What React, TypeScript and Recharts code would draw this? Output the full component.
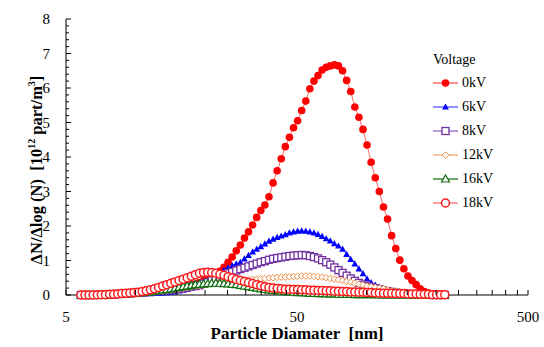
import React from 'react';
import { LineChart, Line, XAxis, YAxis, Legend } from 'recharts';

// particle diameter channels [nm]
const diameters = [
  5.80, 6.04, 6.29, 6.55, 6.83, 7.11, 7.41, 7.72, 8.04, 8.37,
  8.72, 9.08, 9.46, 9.85, 10.26, 10.69, 11.13, 11.60, 12.08, 12.58,
  13.11, 13.65, 14.22, 14.81, 15.43, 16.07, 16.73, 17.43, 18.16, 18.91,
  19.70, 20.52, 21.37, 22.26, 23.19, 24.15, 25.16, 26.20, 27.29, 28.43,
  29.61, 30.84, 32.13, 33.46, 34.85, 36.30, 37.81, 39.39, 41.02, 42.73,
  44.51, 46.36, 48.29, 50.30, 52.39, 54.57, 56.84, 59.20, 61.66, 64.23,
  66.90, 69.68, 72.58, 75.60, 78.75, 82.02, 85.43, 88.98, 92.68, 96.54,
  100.5, 104.7, 109.1, 113.6, 118.4, 123.3, 128.4, 133.8, 139.3, 145.1,
  151.1, 157.4, 164.0, 170.8, 177.9, 185.3, 193.0, 201.0, 209.4, 218.1,
];

const kv0 = [
  0, 0, 0, 0, 0, 0, 0.01, 0.01, 0.01, 0.02,
  0.02, 0.03, 0.03, 0.04, 0.05, 0.06, 0.07, 0.08, 0.10, 0.11,
  0.13, 0.15, 0.17, 0.19, 0.21, 0.23, 0.26, 0.29, 0.32, 0.36,
  0.41, 0.47, 0.54, 0.61, 0.69, 0.80, 0.95, 1.10, 1.28, 1.45,
  1.65, 1.83, 2.03, 2.25, 2.45, 2.61, 2.85, 3.25, 3.60, 3.95,
  4.30, 4.57, 4.85, 5.05, 5.35, 5.62, 5.98, 6.20, 6.36, 6.52,
  6.60, 6.64, 6.67, 6.64, 6.50, 6.22, 5.90, 5.45, 5.15, 4.80,
  4.35, 3.85, 3.40, 3.00, 2.55, 2.20, 1.72, 1.35, 1.01, 0.76,
  0.55, 0.42, 0.30, 0.18, 0.10, 0.06, 0.03, 0.02, 0.01, 0.01,
];

const kv6 = [
  0, 0, 0, 0, 0, 0, 0, 0.01, 0.01, 0.01,
  0.01, 0.02, 0.02, 0.02, 0.03, 0.03, 0.04, 0.04, 0.05, 0.05,
  0.06, 0.07, 0.08, 0.10, 0.12, 0.14, 0.17, 0.20, 0.24, 0.28,
  0.33, 0.40, 0.48, 0.56, 0.64, 0.72, 0.79, 0.85, 0.90, 0.95,
  1.05, 1.15, 1.25, 1.33, 1.40, 1.48, 1.56, 1.62, 1.67, 1.71,
  1.75, 1.80, 1.83, 1.85, 1.86, 1.85, 1.83, 1.80, 1.76, 1.70,
  1.63, 1.57, 1.49, 1.42, 1.33, 1.18, 1.03, 0.90, 0.76, 0.62,
  0.47, 0.36, 0.29, 0.23, 0.19, 0.15, 0.11, 0.08, 0.06, 0.04,
  0.03, 0.02, 0.01, 0.01, 0.01, 0, 0, 0, 0, 0,
];

const kv8 = [
  0, 0, 0, 0, 0.01, 0.01, 0.01, 0.02, 0.02, 0.03,
  0.03, 0.04, 0.05, 0.06, 0.07, 0.08, 0.09, 0.10, 0.11, 0.12,
  0.13, 0.14, 0.16, 0.17, 0.19, 0.20, 0.22, 0.24, 0.26, 0.28,
  0.33, 0.37, 0.42, 0.47, 0.53, 0.58, 0.63, 0.67, 0.71, 0.75,
  0.79, 0.83, 0.87, 0.91, 0.95, 0.98, 1.02, 1.05, 1.07, 1.09,
  1.11, 1.13, 1.14, 1.15, 1.16, 1.15, 1.13, 1.10, 1.06, 1.01,
  0.95, 0.88, 0.80, 0.72, 0.64, 0.56, 0.48, 0.41, 0.35, 0.30,
  0.26, 0.22, 0.19, 0.16, 0.13, 0.11, 0.09, 0.07, 0.05, 0.04,
  0.03, 0.02, 0.02, 0.01, 0.01, 0.01, 0, 0, 0, 0,
];

const kv12 = [
  0, 0, 0, 0, 0, 0, 0.01, 0.01, 0.01, 0.02,
  0.02, 0.03, 0.03, 0.04, 0.05, 0.06, 0.07, 0.08, 0.09, 0.10,
  0.11, 0.12, 0.14, 0.15, 0.17, 0.19, 0.21, 0.23, 0.25, 0.27,
  0.29, 0.31, 0.33, 0.35, 0.36, 0.38, 0.39, 0.40, 0.41, 0.42,
  0.43, 0.44, 0.45, 0.46, 0.47, 0.48, 0.49, 0.50, 0.51, 0.52,
  0.52, 0.53, 0.54, 0.54, 0.55, 0.55, 0.55, 0.54, 0.53, 0.52,
  0.50, 0.48, 0.46, 0.44, 0.42, 0.39, 0.37, 0.34, 0.31, 0.29,
  0.26, 0.24, 0.22, 0.20, 0.18, 0.15, 0.13, 0.11, 0.09, 0.07,
  0.06, 0.05, 0.04, 0.03, 0.02, 0.02, 0.01, 0.01, 0.01, 0.01,
];

const kv16 = [
  0, 0, 0, 0, 0, 0.01, 0.01, 0.01, 0.02, 0.02,
  0.03, 0.03, 0.04, 0.05, 0.06, 0.07, 0.08, 0.09, 0.11, 0.12,
  0.14, 0.16, 0.18, 0.20, 0.22, 0.24, 0.26, 0.28, 0.30, 0.31,
  0.32, 0.33, 0.34, 0.34, 0.34, 0.33, 0.32, 0.31, 0.30, 0.28,
  0.26, 0.24, 0.22, 0.20, 0.18, 0.16, 0.14, 0.13, 0.12, 0.11,
  0.10, 0.09, 0.08, 0.07, 0.07, 0.06, 0.05, 0.05, 0.04, 0.04,
  0.03, 0.03, 0.03, 0.02, 0.02, 0.02, 0.02, 0.01, 0.01, 0.01,
  0.01, 0.01, 0.01, 0, 0, 0, 0, 0, 0, 0,
  0, 0, 0, 0, 0, 0, 0, 0, 0, 0,
];

const kv18 = [
  0, 0, 0, 0, 0, 0.01, 0.01, 0.02, 0.02, 0.03,
  0.04, 0.05, 0.06, 0.07, 0.08, 0.10, 0.12, 0.15, 0.18, 0.22,
  0.26, 0.30, 0.34, 0.38, 0.42, 0.46, 0.50, 0.54, 0.59, 0.63,
  0.65, 0.66, 0.65, 0.63, 0.60, 0.57, 0.53, 0.49, 0.45, 0.42,
  0.39, 0.36, 0.33, 0.30, 0.27, 0.24, 0.22, 0.20, 0.19, 0.18,
  0.17, 0.17, 0.16, 0.16, 0.15, 0.15, 0.14, 0.14, 0.13, 0.13,
  0.12, 0.12, 0.11, 0.11, 0.10, 0.10, 0.09, 0.09, 0.08, 0.08,
  0.07, 0.07, 0.06, 0.06, 0.05, 0.05, 0.05, 0.04, 0.04, 0.04,
  0.03, 0.03, 0.03, 0.02, 0.02, 0.02, 0.01, 0.01, 0.01, 0.01,
];

const seriesNames = ['0kV', '6kV', '8kV', '12kV', '16kV', '18kV'];

const xTicks = [5, 10, 15, 20, 25, 30, 35, 40, 45, 50, 100, 150, 200, 250, 300, 350, 400, 450, 500];
const xLabels = [5, 50, 500];
const yTicks = [
  0, 0.2, 0.4, 0.6, 0.8, 1, 1.2, 1.4, 1.6, 1.8, 2, 2.2, 2.4, 2.6, 2.8, 3, 3.2, 3.4, 3.6, 3.8,
  4, 4.2, 4.4, 4.6, 4.8, 5, 5.2, 5.4, 5.6, 5.8, 6, 6.2, 6.4, 6.6, 6.8, 7, 7.2, 7.4, 7.6, 7.8, 8,
];

const data = diameters.map((d, i) => ({
  d,
  s0: kv0[i],
  s1: kv6[i],
  s2: kv8[i],
  s3: kv12[i],
  s4: kv16[i],
  s5: kv18[i],
}));

const styles = [
  { key: 's0', shape: 'disc', color: '#ff0000', line: '#ff6a6a' },
  { key: 's1', shape: 'tri', color: '#0000ff', line: '#6a6aff' },
  { key: 's2', shape: 'square', color: '#7030a0', line: '#a07ccc' },
  { key: 's3', shape: 'diamond', color: '#f0904a', line: '#f4b080' },
  { key: 's4', shape: 'otri', color: '#107010', line: '#3a8a3a' },
  { key: 's5', shape: 'ring', color: '#ff1a1a', line: '#ff8080' },
];

const serif = 'Liberation Serif, DejaVu Serif, serif';

const Marker = ({ shape, color, cx, cy }: any) => {
  switch (shape) {
    case 'disc':
      return <circle cx={cx} cy={cy} r={3.8} fill={color} />;
    case 'tri':
      return <polygon points={`${cx},${cy - 3.6} ${cx + 3.4},${cy + 2.6} ${cx - 3.4},${cy + 2.6}`} fill={color} />;
    case 'square':
      return <rect x={cx - 3.5} y={cy - 3.5} width={7} height={7} fill="#fff" stroke={color} strokeWidth={1.3} />;
    case 'diamond':
      return <polygon points={`${cx},${cy - 3.3} ${cx + 3.3},${cy} ${cx},${cy + 3.3} ${cx - 3.3},${cy}`} fill="#fff" stroke={color} strokeWidth={1} />;
    case 'otri':
      return <polygon points={`${cx},${cy - 4} ${cx + 4},${cy + 3} ${cx - 4},${cy + 3}`} fill="#fff" stroke={color} strokeWidth={1.2} />;
    default:
      return <circle cx={cx} cy={cy} r={4} fill="#fff" stroke={color} strokeWidth={1.5} />;
  }
};

const makeDot = (shape: string, color: string) => (props: any) => {
  const { cx, cy, index } = props;
  if (cx == null || cy == null) return <g key={index} />;
  return (
    <g key={index}>
      <Marker shape={shape} color={color} cx={cx} cy={cy} />
    </g>
  );
};

const XTick = (props: any) => {
  const { x, y, payload } = props;
  const v = payload.value;
  const major = xLabels.includes(v);
  return (
    <g>
      <line x1={x} x2={x} y1={y} y2={y - 5} stroke="#000" strokeWidth={1} />
      {major && (
        <text x={x} y={y + 27} textAnchor="middle" fontFamily={serif} fontSize={15} fill="#000">
          {v}
        </text>
      )}
    </g>
  );
};

const YTick = (props: any) => {
  const { x, y, payload } = props;
  const v = payload.value;
  const major = Math.abs(v - Math.round(v)) < 1e-6;
  return (
    <g>
      <line x1={x} x2={x + (major ? 5 : 3)} y1={y} y2={y} stroke="#000" strokeWidth={1} />
      {major && (
        <text x={x - 16} y={y + 5} textAnchor="end" fontFamily={serif} fontSize={15} fill="#000">
          {Math.round(v)}
        </text>
      )}
    </g>
  );
};

const XTitle = ({ viewBox }: any) => (
  <text
    x={viewBox.x + viewBox.width / 2}
    y={viewBox.y + 44}
    textAnchor="middle"
    fontFamily={serif}
    fontWeight="bold"
    fontSize={17}
    fill="#000"
    style={{ whiteSpace: 'pre' }}
  >
    {'Particle Diamater  [nm]'}
  </text>
);

const YTitle = ({ viewBox }: any) => {
  const cx = viewBox.x + 42;
  const cy = 170;
  return (
    <text
      x={cx}
      y={cy}
      transform={`rotate(-90, ${cx}, ${cy})`}
      textAnchor="middle"
      fontFamily={serif}
      fontWeight="bold"
      fontSize={16.5}
      fill="#000"
      style={{ whiteSpace: 'pre' }}
    >
      <tspan>{'ΔN/Δlog (N)  [10'}</tspan>
      <tspan fontSize={10} dy={-7}>12</tspan>
      <tspan dy={7}>{' part/m'}</tspan>
      <tspan fontSize={10} dy={-7}>3</tspan>
      <tspan dy={7}>]</tspan>
    </text>
  );
};

const LegendBox = () => (
  <div style={{ fontFamily: serif, fontSize: 14, color: '#000' }}>
    <div style={{ height: 22, lineHeight: '22px', marginLeft: 1 }}>Voltage</div>
    {seriesNames.map((name, i) => (
      <div key={name} style={{ display: 'flex', alignItems: 'center', height: 24 }}>
        <svg width={28} height={12}>
          <line x1={1} x2={26} y1={6} y2={6} stroke={styles[i].line} strokeWidth={1.5} />
          <Marker shape={styles[i].shape} color={styles[i].color} cx={13.5} cy={6} />
        </svg>
        <span style={{ marginLeft: 2 }}>{name}</span>
      </div>
    ))}
  </div>
);

export default function App() {
  return (
    <div style={{ position: 'absolute', left: 0, top: 0, background: '#fff' }}>
      <LineChart width={544} height={347} data={data} margin={{ top: 19, right: 16, bottom: 0, left: 0 }}>
        <XAxis
          dataKey="d"
          type="number"
          scale="log"
          domain={[5, 500]}
          allowDataOverflow
          ticks={xTicks}
          interval={0}
          tick={<XTick />}
          tickLine={false}
          tickSize={0}
          tickMargin={0}
          height={52}
          axisLine={{ stroke: '#000' }}
          label={<XTitle />}
        />
        <YAxis
          type="number"
          domain={[0, 8]}
          ticks={yTicks}
          interval={0}
          tick={<YTick />}
          tickLine={false}
          tickSize={0}
          tickMargin={0}
          width={66}
          axisLine={{ stroke: '#000' }}
          label={<YTitle />}
        />
        <Legend
          layout="horizontal"
          verticalAlign="middle"
          align="center"
          content={<LegendBox />}
          wrapperStyle={{ left: 432, top: 49, width: 100 }}
        />
        {styles.map((s) => (
          <Line
            key={s.key}
            dataKey={s.key}
            stroke={s.line}
            strokeWidth={1}
            dot={makeDot(s.shape, s.color)}
            activeDot={false}
            isAnimationActive={false}
          />
        ))}
      </LineChart>
    </div>
  );
}
